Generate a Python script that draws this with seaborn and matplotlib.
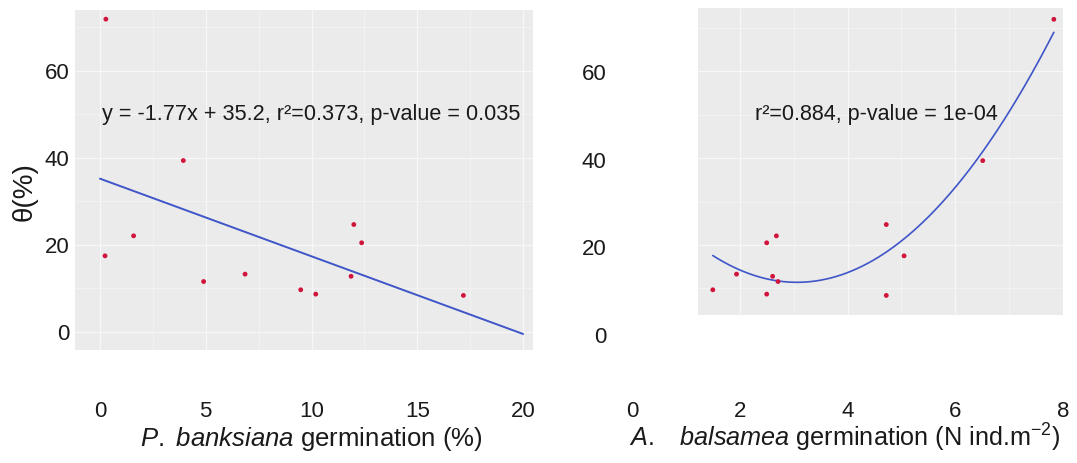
import numpy as np
import pandas as pd
import matplotlib
matplotlib.use("Agg")
import matplotlib.pyplot as plt
from matplotlib.ticker import MultipleLocator
import seaborn as sns

# ---------------- data ----------------
theta = [71.9, 17.5, 22.1, 39.4, 11.6, 13.3, 9.7, 8.7, 12.8, 24.7, 20.5, 8.4]
pb_germ = [0.28, 0.24, 1.59, 3.94, 4.90, 6.86, 9.49, 10.2, 11.87, 12.0, 12.37, 17.18]
ab_germ = [7.83, 5.05, 2.68, 6.51, 2.71, 1.94, 1.50, 2.50, 2.61, 4.72, 2.50, 4.72]
pb_ticks = [0, 5, 10, 15, 20]
ab_ticks = [0, 2, 4, 6, 8]
y_ticks = [0, 20, 40, 60]
left_annot = "y = -1.77x + 35.2, r\u00b2=0.373, p-value = 0.035"
right_annot = "r\u00b2=0.884, p-value = 1e-04"

df = pd.DataFrame({"theta": theta, "pb": pb_germ, "ab": ab_germ})

# fitted models
lin = np.polyfit(df["pb"], df["theta"], 1)
pb_grid = np.linspace(0, 20, 100)
df_lin = pd.DataFrame({"x": pb_grid, "y": np.polyval(lin, pb_grid)})
quad = np.polyfit(df["ab"], df["theta"], 2)
ab_grid = np.linspace(df["ab"].min(), df["ab"].max(), 200)
df_quad = pd.DataFrame({"x": ab_grid, "y": np.polyval(quad, ab_grid)})

# ---------------- style ----------------
sns.set_style("white")
plt.rcParams["font.family"] = ["Liberation Sans", "DejaVu Sans"]
plt.rcParams["mathtext.fontset"] = "custom"
plt.rcParams["mathtext.rm"] = "Liberation Sans"
plt.rcParams["mathtext.it"] = "Liberation Sans:italic"

W, H = 1077, 463
fig = plt.figure(figsize=(W / 100, H / 100), dpi=100)


def rect(l, t, r, b):
    return [l / W, 1 - b / H, (r - l) / W, (b - t) / H]


PANEL = "#EBEBEB"
PT = "#D0143C"
LINE = "#3F55C8"
TXT = "#1a1a1a"
GRID = "#F7F7F7"


def panel_axes(box, xlim, ylim, xmaj, xmin_, ymaj, ymin_):
    ax = fig.add_axes(rect(*box))
    ax.set_facecolor(PANEL)
    ax.set_xlim(*xlim)
    ax.set_ylim(*ylim)
    ax.xaxis.set_major_locator(MultipleLocator(xmaj))
    ax.xaxis.set_minor_locator(MultipleLocator(xmin_))
    ax.yaxis.set_major_locator(MultipleLocator(ymaj))
    ax.yaxis.set_minor_locator(MultipleLocator(ymin_))
    ax.grid(which="major", color=GRID, lw=0.9)
    ax.grid(which="minor", color=GRID, lw=0.45)
    ax.tick_params(which="both", length=0, labelbottom=False, labelleft=False)
    for s in ax.spines.values():
        s.set_visible(False)
    ax.set_axisbelow(True)
    return ax


def frame_axes(box, xlim, ylim, xt, yt):
    ax = fig.add_axes(rect(*box))
    ax.set_facecolor("none")
    ax.set_xlim(*xlim)
    ax.set_ylim(*ylim)
    ax.set_xticks(xt)
    ax.set_yticks(yt)
    ax.tick_params(axis="both", length=2.5, width=0.8, color="#9a9a9a",
                   labelsize=16, labelcolor=TXT, pad=1.5, direction="out")
    for s in ax.spines.values():
        s.set_visible(False)
    ax.grid(False)
    return ax


# ---------------- left panel ----------------
axL = panel_axes((75, 10, 533, 350), (-1.18, 20.47), (-4.14, 74.0), 5, 2.5, 20, 10)
sns.lineplot(data=df_lin, x="x", y="y", ax=axL, color=LINE, lw=1.4)
sns.scatterplot(data=df, x="pb", y="theta", ax=axL, color=PT, s=12,
                edgecolor="none", zorder=3)
axL.set_xlabel("")
axL.set_ylabel("")
axL.text(10, 50, left_annot, ha="center", va="center", fontsize=15.6, color=TXT)

fL = frame_axes((75, 10, 533, 395), (-1.18, 20.47), (-14.48, 74.0), pb_ticks, y_ticks)

# ---------------- right panel ----------------
axR = panel_axes((698, 8, 1063, 315), (1.225, 8.0), (3.9, 74.5), 2, 1, 20, 10)
sns.lineplot(data=df_quad, x="x", y="y", ax=axR, color=LINE, lw=1.2)
sns.scatterplot(data=df, x="ab", y="theta", ax=axR, color=PT, s=12,
                edgecolor="none", zorder=3)
axR.set_xlabel("")
axR.set_ylabel("")
axR.text(4.54, 50, right_annot, ha="center", va="center", fontsize=15.5, color=TXT)

fR = frame_axes((612, 10, 1070, 395), (-0.371, 8.13), (-13.69, 74.15), ab_ticks, y_ticks)

# ---------------- axis titles ----------------
fig.text(311 / W, 1 - 446 / H, r"$\it{P.\ banksiana}$ germination (%)",
         ha="center", va="baseline", fontsize=18.5, color=TXT)
fig.text(845 / W, 1 - 447 / H,
         r"$\it{A.}$   $\it{balsamea}$ germination (N ind.m$^{-2}$)",
         ha="center", va="baseline", fontsize=18.2, color=TXT)
fig.text(25 / W, 1 - 192 / H, "\u03b8(%)", rotation=90, ha="center",
         va="center", fontsize=20, color=TXT)

fig.savefig("out.png", dpi=100, facecolor="white")
